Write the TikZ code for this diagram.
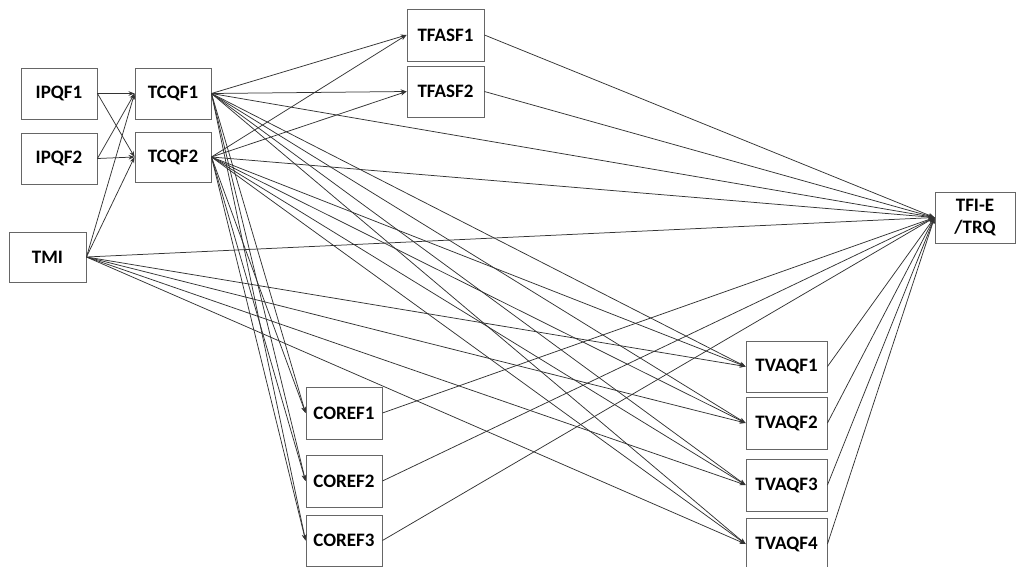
\documentclass[tikz,border=0pt]{standalone}
\usepackage{fontspec}
\setmainfont{Carlito}
\usetikzlibrary{arrows.meta}
\begin{document}
\begin{tikzpicture}[x=1pt,y=-1pt,
  box/.style={draw=black!60,line width=0.9pt,fill=white,inner sep=0pt,
    minimum width=#1,font=\fontsize{19}{22}\selectfont\bfseries,text=black,align=center},
  box/.default=76pt,
  link/.style={draw=black!80,line width=0.75pt,-{Stealth[length=6pt,width=4.5pt]}}]
\useasboundingbox (0,0) rectangle (1017,567);
% boxes
\node[box=76pt,minimum height=51pt] (ipqf1) at (59,93.5) {IPQF1};
\node[box=76pt,minimum height=51pt] (ipqf2) at (59,158.5) {IPQF2};
\node[box=77pt,minimum height=50pt] (tmi) at (47.5,257) {TMI};
\node[box=76pt,minimum height=51pt] (tcqf1) at (173,93.5) {TCQF1};
\node[box=76pt,minimum height=50pt] (tcqf2) at (173,157) {TCQF2};
\node[box=77pt,minimum height=52pt] (tfasf1) at (445.5,35) {TFASF1};
\node[box=77pt,minimum height=51pt] (tfasf2) at (445.5,91.5) {TFASF2};
\node[box=80pt,minimum height=51pt] (tfie) at (975,217.5) {TFI-E\\/TRQ};
\node[box=76pt,minimum height=52pt] (coref1) at (344,413) {COREF1};
\node[box=76pt,minimum height=52pt] (coref2) at (344,481) {COREF2};
\node[box=76pt,minimum height=51pt] (coref3) at (344,540.5) {COREF3};
\node[box=81pt,minimum height=51pt] (tvaqf1) at (786.5,366.5) {TVAQF1};
\node[box=81pt,minimum height=52pt] (tvaqf2) at (786.5,423) {TVAQF2};
\node[box=81pt,minimum height=52pt] (tvaqf3) at (786.5,485) {TVAQF3};
\node[box=81pt,minimum height=52pt] (tvaqf4) at (786.5,544) {TVAQF4};
% inputs to the TCQF factors
\foreach \s in {ipqf1,ipqf2,tmi}
  \foreach \t in {tcqf1,tcqf2}
    \draw[link] (\s.east) -- (\t.west);
% TCQF factors to all downstream factors
\foreach \s in {tcqf1,tcqf2}
  \foreach \t in {tfasf1,tfasf2,tfie,coref1,coref2,coref3,tvaqf1,tvaqf2,tvaqf3,tvaqf4}
    \draw[link] (\s.east) -- (\t.west);
% TMI direct paths
\foreach \t in {tfie,tvaqf1,tvaqf2,tvaqf3,tvaqf4}
  \draw[link] (tmi.east) -- (\t.west);
% mediators to the outcome
\foreach \s in {tfasf1,tfasf2,coref1,coref2,coref3,tvaqf1,tvaqf2,tvaqf3,tvaqf4}
  \draw[link] (\s.east) -- (tfie.west);
\end{tikzpicture}
\end{document}
